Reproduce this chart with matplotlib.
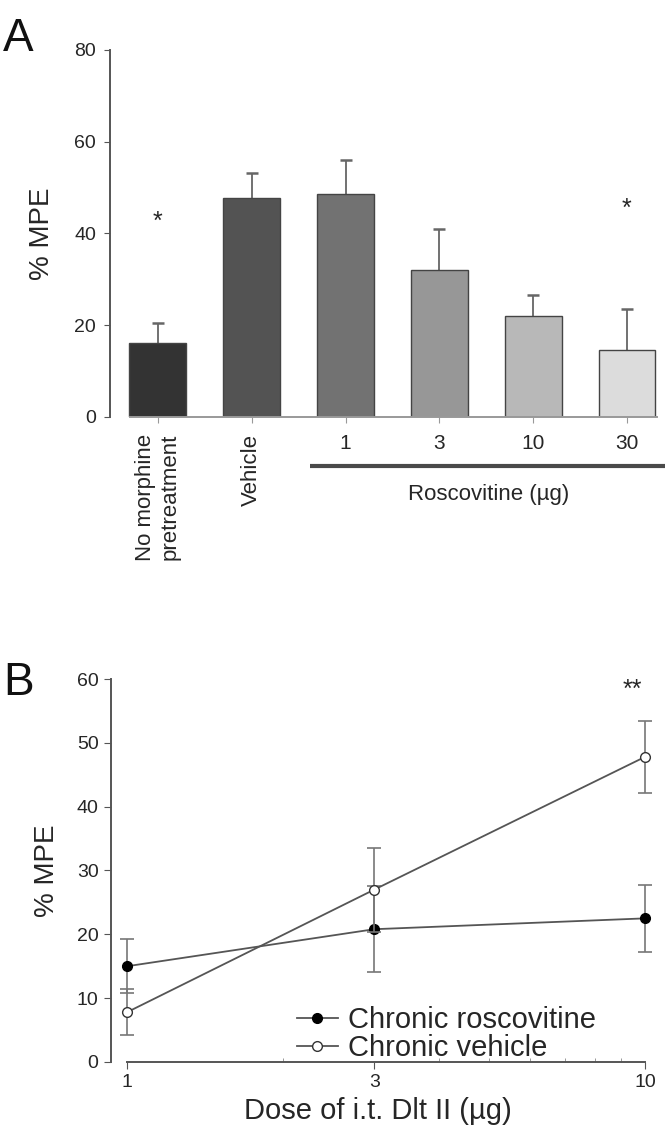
import numpy as np
import matplotlib
matplotlib.use("Agg")
import matplotlib.pyplot as plt
import matplotlib.transforms as mtransforms
from matplotlib.ticker import FixedLocator, NullFormatter

plt.rcParams['font.family'] = ['Liberation Sans', 'DejaVu Sans']

# panel A data
groups = ["No morphine\npretreatment", "Vehicle", "1", "3", "10", "30"]
bar_means = [16.2, 47.8, 48.7, 32.0, 22.0, 14.6]
bar_sem = [4.3, 5.4, 7.3, 9.0, 4.6, 8.9]
bar_colors = ["#333333", "#535353", "#727272", "#979797", "#b8b8b8", "#dcdcdc"]
star_groups = [0, 5]
star_heights = [42.5, 45.3]

# panel B data
doses = [1, 3, 10]
ros_mean = [15.0, 20.8, 22.5]
ros_sem = [4.2, 6.7, 5.3]
veh_mean = [7.8, 27.0, 47.8]
veh_sem = [3.6, 6.6, 5.6]

txt = "#262626"
axc = "#555555"

fig = plt.figure(figsize=(6.7, 11.3), dpi=100)

# ---- Panel A ----
ax = fig.add_axes([0.1642, 0.631, 0.8164, 0.3248])
x = np.arange(len(groups))
tops = np.array(bar_means) + np.array(bar_sem)
# upper-only error bars
ax.vlines(x, bar_means, tops, colors="#666666", linewidth=1.3, zorder=1)
ax.plot(x, tops, linestyle='none', marker='_', markersize=8,
        markeredgewidth=1.8, color="#666666", zorder=1)
ax.bar(x, bar_means, width=0.606, color=bar_colors, edgecolor="#444444",
       linewidth=1.0, zorder=2)
for g, h in zip(star_groups, star_heights):
    ax.text(g, h, "*", ha='center', va='center', fontsize=18, color=txt)

ax.set_xlim(-0.51, 5.32)
ax.set_ylim(0, 80)
ax.set_yticks([0, 20, 40, 60, 80])
ax.set_ylabel("% MPE", fontsize=20, color=txt, labelpad=14)
ax.spines['top'].set_visible(False)
ax.spines['right'].set_visible(False)
ax.spines['left'].set_color(axc)
ax.spines['left'].set_linewidth(1.4)
ax.spines['bottom'].set_color("#999999")
ax.spines['bottom'].set_linewidth(1.4)
ax.spines['bottom'].set_bounds(-0.3, 5.32)
ax.tick_params(axis='y', length=4, color=axc, labelsize=14, labelcolor=txt, pad=6)
ax.tick_params(axis='x', length=4, color="#999999", labelsize=15, labelcolor=txt, pad=8)
ax.set_xticks(x)
ax.set_xticklabels(groups)
for i, lab in enumerate(ax.get_xticklabels()):
    if i < 2:
        lab.set_rotation(90)
        lab.set_fontsize(16)
        lab.set_va('top')
        lab.set_ha('center')
        lab.set_multialignment('right')

trans = mtransforms.blended_transform_factory(ax.transData, ax.transAxes)
ax.plot([1.62, 5.41], [-0.1335, -0.1335], transform=trans, color="#4a4a4a",
        linewidth=3, clip_on=False, solid_capstyle='butt')
ax.text(3.53, -0.2125, "Roscovitine (\u00b5g)", transform=trans, ha='center',
        va='center', fontsize=16, color=txt)

fig.text(0.005, 0.985, "A", fontsize=33, va='top', ha='left', color='#111111')

# ---- Panel B ----
bx = fig.add_axes([0.1657, 0.0602, 0.797, 0.3389])
series = [(ros_mean, ros_sem, 'black', 'black', "Chronic roscovitine", 3),
          (veh_mean, veh_sem, 'white', '#333333', "Chronic vehicle", 4)]
for mean, sem, fc, ec, name, z in series:
    cont = bx.errorbar(doses, mean, yerr=sem, fmt='-o', color="#555555",
                       ecolor="#777777", elinewidth=1.2, capsize=5, capthick=1.2,
                       markerfacecolor=fc, markeredgecolor=ec, markersize=7,
                       linewidth=1.3, label=name, zorder=z)
    for art in [cont[0]] + list(cont[1]) + list(cont[2]):
        art.set_clip_on(False)
bx.text(9.45, 58.3, "**", ha='center', va='center', fontsize=18, color=txt)

bx.set_xscale('log')
bx.set_xlim(0.931, 10)
bx.set_ylim(0, 60)
bx.set_xticks(doses)
bx.set_xticklabels([str(d) for d in doses])
bx.xaxis.set_minor_locator(FixedLocator([2, 4, 5, 6, 7, 8, 9]))
bx.xaxis.set_minor_formatter(NullFormatter())
bx.set_yticks(range(0, 61, 10))
bx.spines['top'].set_visible(False)
bx.spines['right'].set_visible(False)
bx.spines['left'].set_color(axc)
bx.spines['left'].set_linewidth(1.4)
bx.spines['bottom'].set_color(axc)
bx.spines['bottom'].set_linewidth(1.4)
bx.spines['bottom'].set_bounds(1, 10)
bx.tick_params(axis='y', length=5, color=axc, labelsize=14, labelcolor=txt, pad=4)
bx.tick_params(axis='x', which='major', length=5, color=axc, labelsize=14,
               labelcolor=txt, pad=4)
bx.tick_params(axis='x', which='minor', direction='in', length=3, color="#888888")
bx.set_ylabel("% MPE", fontsize=20, color=txt, labelpad=12)
bx.set_xlabel("Dose of i.t. Dlt II (\u00b5g)", fontsize=21, color=txt, labelpad=4)

handles, labels = bx.get_legend_handles_labels()
handles = [h[0] for h in handles]
bx.legend(handles, labels, loc='upper left', bbox_to_anchor=(0.348, 0.146),
          frameon=False, fontsize=21, handlelength=1.4, handletextpad=0.35,
          labelspacing=0.0, borderpad=0, borderaxespad=0, labelcolor=txt)

fig.text(0.005, 0.415, "B", fontsize=33, va='top', ha='left', color='#111111')

fig.savefig("out.png", dpi=100)
